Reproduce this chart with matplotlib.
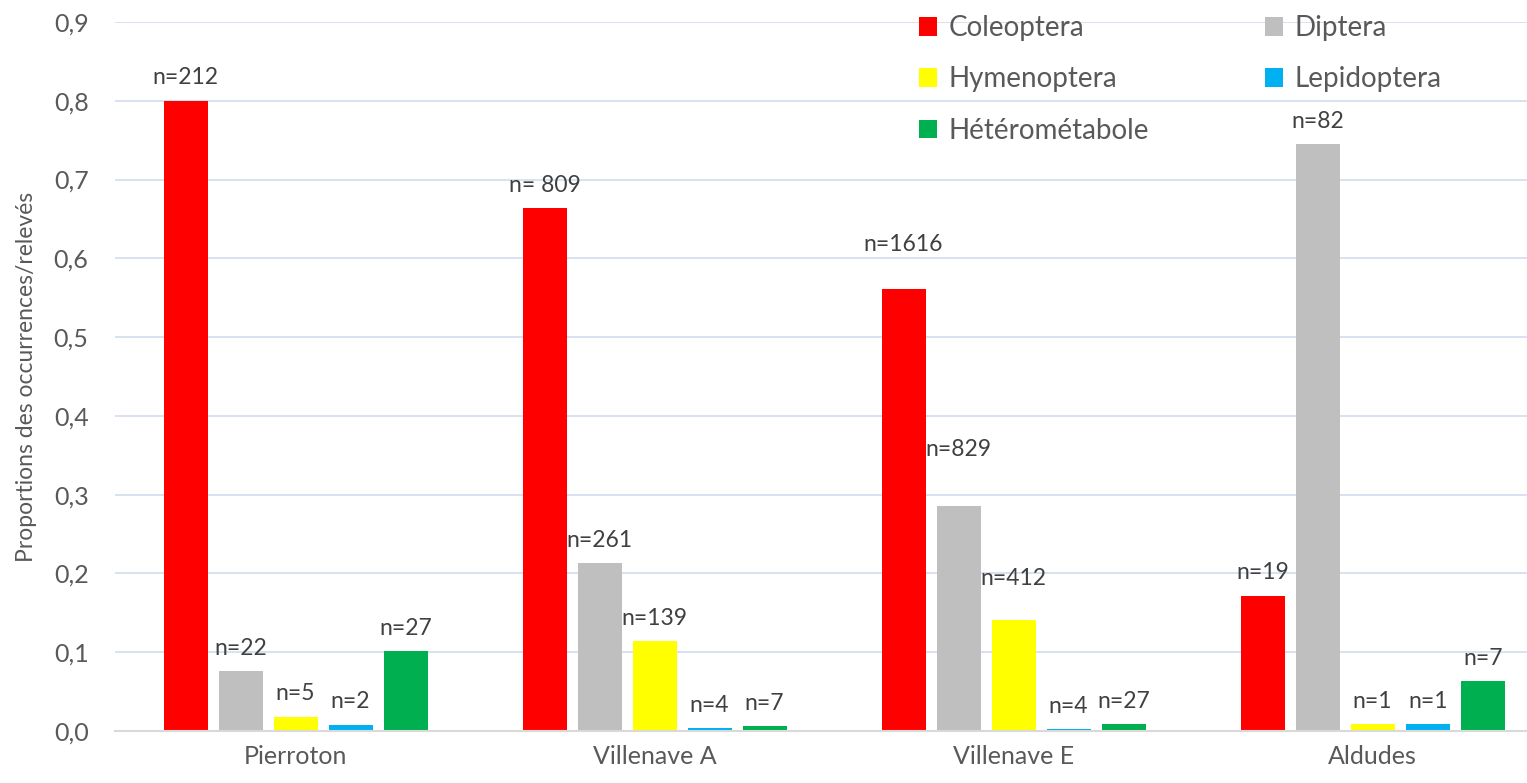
import matplotlib
matplotlib.use("Agg")
import matplotlib.pyplot as plt
from matplotlib.patches import Patch
import numpy as np

plt.rcParams['font.family'] = ['Lato', 'DejaVu Sans']

sites = ["Pierroton", "Villenave A", "Villenave E", "Aldudes"]
orders = ["Coleoptera", "Diptera", "Hymenoptera", "Lepidoptera", "Hétérométabole"]

coleoptera = [0.800, 0.664, 0.561, 0.172]
diptera = [0.076, 0.213, 0.286, 0.745]
hymenoptera = [0.018, 0.114, 0.141, 0.009]
lepidoptera = [0.008, 0.004, 0.002, 0.009]
heterometabole = [0.101, 0.006, 0.009, 0.063]

n_coleoptera = ["n=212", "n= 809", "n=1616", "n=19"]
n_diptera = ["n=22", "n=261", "n=829", "n=82"]
n_hymenoptera = ["n=5", "n=139", "n=412", "n=1"]
n_lepidoptera = ["n=2", "n=4", "n=4", "n=1"]
n_heterometabole = ["n=27", "n=7", "n=27", "n=7"]

y_ticks = [0.0, 0.1, 0.2, 0.3, 0.4, 0.5, 0.6, 0.7, 0.8, 0.9]
y_tick_labels = ["0,0", "0,1", "0,2", "0,3", "0,4", "0,5", "0,6", "0,7", "0,8", "0,9"]

series = [coleoptera, diptera, hymenoptera, lepidoptera, heterometabole]
labels = [n_coleoptera, n_diptera, n_hymenoptera, n_lepidoptera, n_heterometabole]
colors = ["#ff0000", "#bfbfbf", "#ffff00", "#00b0f0", "#00b050"]

# extra lift for labels that sit higher above their bars (series index, site index)
label_lift = {(0, 2): 0.027, (1, 2): 0.042, (2, 2): 0.023}

text_color = "#595959"
label_color = "#404040"

fig = plt.figure(figsize=(15.27, 7.83), dpi=100)
ax = fig.add_axes([115 / 1527, 52 / 783, 1 - 115 / 1527, (731 - 22) / 783])

x = np.arange(len(sites))
step = 0.1532
width = 0.1226

for i, (vals, labs, col) in enumerate(zip(series, labels, colors)):
    pos = x + (i - 2) * step
    ax.bar(pos, vals, width=width, color=col, zorder=3)
    for j, (p, v, t) in enumerate(zip(pos, vals, labs)):
        ax.text(p, v + 0.029 + label_lift.get((i, j), 0.0), t, ha="center", va="center",
                fontsize=16.5, color=label_color, zorder=4)

ax.set_xlim(-0.503, 3.43)
ax.set_ylim(0, 0.9)
ax.set_yticks(y_ticks)
ax.set_yticklabels(y_tick_labels)
ax.set_xticks(x)
ax.set_xticklabels(sites)
ax.tick_params(axis="both", length=0, labelsize=18, colors=text_color)
ax.tick_params(axis="x", pad=10)
ax.tick_params(axis="y", pad=19)
ax.set_ylabel("Proportions des occurrences/relevés", fontsize=16.5, color=text_color)
ax.yaxis.set_label_coords(-0.055, 0.5)

ax.grid(axis="y", color="#d3ddf0", linewidth=1.2, zorder=0)
ax.set_axisbelow(True)
for side in ["top", "right", "left"]:
    ax.spines[side].set_visible(False)
ax.spines["bottom"].set_color("#d9d9d9")
ax.spines["bottom"].set_linewidth(1.5)
ax.spines["bottom"].set_zorder(5)

# legend laid out row by row: matplotlib fills columns first, so reorder
order = [0, 2, 4, 1, 3]
handles = [Patch(facecolor=colors[k], edgecolor="none") for k in order]
fig.legend(handles, [orders[k] for k in order], ncol=2, loc="upper left",
           bbox_to_anchor=(919 / 1527, 1 - 15 / 783), frameon=False,
           borderpad=0, borderaxespad=0,
           fontsize=20, labelcolor=text_color, handlelength=0.65, handleheight=0.65,
           handletextpad=0.4, columnspacing=4.2, labelspacing=0.91)

fig.savefig("out.png", dpi=100)
